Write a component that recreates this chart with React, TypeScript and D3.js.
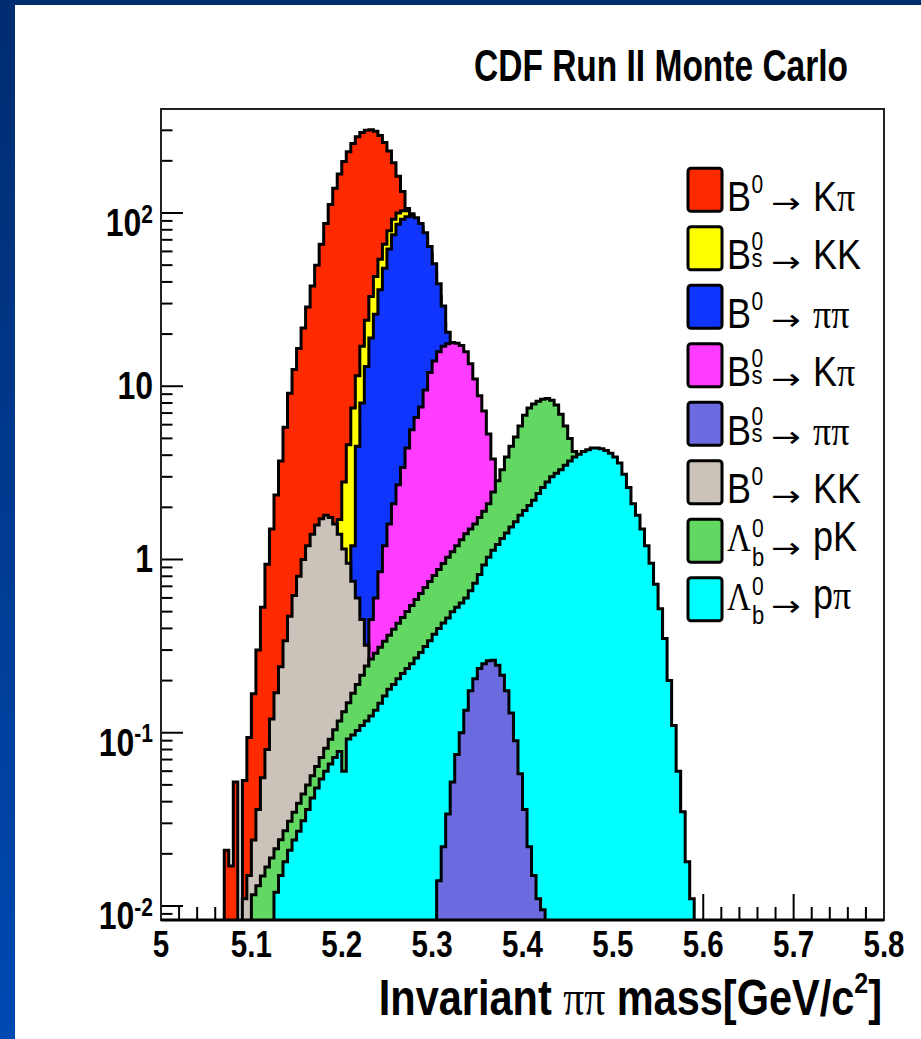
import React from "react";
import * as d3 from "d3";

// ---- data ---------------------------------------------------------------
const binWidth = 0.005; // GeV/c^2 per bin

// B0 -> K pi
const kpiStart = 5.07;
const kpiCounts = [
  0.021, 0.017, 0.052, 0, 0.053, 0.094, 0.168, 0.3, 0.53, 0.94,
  1.5, 2.36, 3.7, 5.8, 9.1, 12.5, 16.5, 21.7, 28.7, 37.9,
  50, 66, 87, 112, 139, 168, 198, 226, 252, 275,
  291, 300, 302, 296, 280, 255, 228, 195, 163, 133,
  106, 82, 62, 46, 33, 23, 16, 10.5, 6.8, 4.3,
  2.7, 1.6, 0.95, 0.55, 0.3, 0.16, 0.08, 0.04, 0.02,
];

// Bs -> K K
const bsKKStart = 5.17;
const bsKKCounts = [
  0.1, 0.2, 0.35, 0.6, 1.0, 1.7, 2.8, 4.6, 7.5, 11.5,
  17, 24, 33, 43, 54, 66, 79, 92, 100, 103,
  103, 99, 92, 83, 71, 58, 45, 33, 23, 15.5,
  10, 6.3, 3.9, 2.3, 1.35, 0.75, 0.4, 0.2, 0.1,
];

// B0 -> pi pi
const pipiStart = 5.19;
const pipiCounts = [
  0.015, 0.04, 0.12, 0.4, 1.2, 4.5, 8, 13, 19, 26,
  36, 48, 62, 75, 86, 92, 95, 96, 94, 87,
  77, 64, 51, 39, 29, 20.5, 14, 9.5, 6.3, 4.1,
  2.6, 1.6, 1.0, 0.6, 0.35, 0.2, 0.1,
];

// Bs -> K pi
const bsKpiStart = 5.225;
const bsKpiCounts = [
  0.3, 0.45, 0.6, 0.85, 1.2, 1.6, 2.1, 2.7, 3.4, 4.4,
  5.6, 6.6, 7.6, 9.5, 12.0, 14.0, 15.8, 17.0, 17.6, 17.9,
  17.7, 17.2, 15.8, 13.5, 11.0, 8.8, 7.2, 5.3, 3.8, 2.7,
  1.8, 1.1, 0.7, 0.4, 0.22, 0.12, 0.06, 0.03,
];

// Bs -> pi pi
const bsPipiStart = 5.305;
const bsPipiCounts = [
  0.014, 0.022, 0.034, 0.052, 0.075, 0.1, 0.135, 0.175, 0.205, 0.235,
  0.25, 0.26, 0.262, 0.245, 0.215, 0.175, 0.13, 0.09, 0.058, 0.036,
  0.022, 0.015, 0.011, 0.0095,
];

// B0 -> K K
const kkStart = 5.09;
const kkCounts = [
  0.011, 0.015, 0.024, 0.036, 0.055, 0.08, 0.12, 0.17, 0.24, 0.34,
  0.47, 0.62, 0.8, 1.0, 1.2, 1.4, 1.58, 1.72, 1.8, 1.75,
  1.6, 1.4, 1.15, 0.95, 0.75, 0.6, 0.45, 0.32, 0.22, 0.15,
  0.1, 0.065, 0.04, 0.025, 0.015,
];

// Lambda_b -> p K
const lbpKStart = 5.1;
const lbpKCounts = [
  0.0116, 0.0131, 0.0149, 0.0168, 0.0189, 0.0214, 0.0241, 0.0272, 0.0308, 0.0347,
  0.0392, 0.0443, 0.05, 0.0565, 0.0638, 0.072, 0.0813, 0.0918, 0.104, 0.117,
  0.132, 0.149, 0.169, 0.19, 0.215, 0.243, 0.266, 0.288, 0.311, 0.337,
  0.365, 0.395, 0.428, 0.463, 0.501, 0.543, 0.588, 0.637, 0.689, 0.746,
  0.808, 0.875, 0.947, 1.03, 1.11, 1.2, 1.3, 1.41, 1.5, 1.6,
  1.75, 1.9, 2.1, 2.45, 2.85, 3.3, 3.9, 4.5, 5.1, 5.9,
  6.8, 7.5, 7.9, 8.2, 8.4, 8.5, 8.3, 7.8, 6.9, 5.9,
  5.0, 4.2, 3.5, 2.7, 2.0, 1.4, 0.95, 0.6, 0.36, 0.2,
  0.1, 0.05, 0.022,
];

// Lambda_b -> p pi
const lbppiStart = 5.125;
const lbppiCounts = [
  0.012, 0.015, 0.018, 0.021, 0.024, 0.027, 0.031, 0.036, 0.042, 0.048,
  0.054, 0.06, 0.066, 0.072, 0.078, 0.06, 0.092, 0.097, 0.103, 0.11,
  0.117, 0.125, 0.135, 0.148, 0.163, 0.178, 0.19, 0.205, 0.22, 0.235,
  0.25, 0.27, 0.29, 0.315, 0.34, 0.37, 0.4, 0.43, 0.46, 0.5,
  0.53, 0.56, 0.6, 0.66, 0.73, 0.82, 0.93, 1.03, 1.13, 1.22,
  1.32, 1.42, 1.54, 1.65, 1.8, 1.92, 2.05, 2.2, 2.4, 2.6,
  2.8, 3.0, 3.15, 3.3, 3.5, 3.7, 3.9, 4.05, 4.2, 4.3,
  4.4, 4.4, 4.35, 4.25, 4.1, 3.9, 3.6, 3.1, 2.6, 2.1,
  1.8, 1.5, 1.2, 0.95, 0.72, 0.52, 0.35, 0.2, 0.11, 0.06,
  0.035, 0.018, 0.011,
];

// axis ticks
const massTicks = [5, 5.1, 5.2, 5.3, 5.4, 5.5, 5.6, 5.7, 5.8];
const massTickLabels = ["5", "5.1", "5.2", "5.3", "5.4", "5.5", "5.6", "5.7", "5.8"];
const decadeTicks = [0.01, 0.1, 1, 10, 100];
const decadeBases = ["10", "10", "1", "10", "10"];
const decadeExponents = ["-2", "-1", "", "", "2"];

// legend: parent particle, subscript, decay products (greek flag)
const legendParents = ["B", "B", "B", "B", "B", "B", "Λ", "Λ"];
const legendSubs = ["", "s", "", "s", "s", "", "b", "b"];
const legendProducts: [string, boolean][][] = [
  [["K", false], ["π", true]],
  [["KK", false]],
  [["ππ", true]],
  [["K", false], ["π", true]],
  [["ππ", true]],
  [["KK", false]],
  [["pK", false]],
  [["p", false], ["π", true]],
];
const legendColors = ["#ff2a00", "#ffff00", "#0f35ff", "#ff3cff", "#6b6bdf", "#cbc3ba", "#62d762", "#00ffff"];

// draw order (back to front) as indices into the legend list
const drawOrder = [0, 1, 2, 3, 5, 6, 7, 4];
const seriesStarts = [kpiStart, bsKKStart, pipiStart, bsKpiStart, bsPipiStart, kkStart, lbpKStart, lbppiStart];
const seriesCounts = [kpiCounts, bsKKCounts, pipiCounts, bsKpiCounts, bsPipiCounts, kkCounts, lbpKCounts, lbppiCounts];

// ---- layout -------------------------------------------------------------
const W = 921;
const H = 1039;
const F = { left: 161, right: 884, top: 109, bottom: 920 };
const SANS = "'Liberation Sans', Arial, Helvetica, sans-serif";
const SERIF = "'Liberation Serif', 'Times New Roman', serif";

const x = d3.scaleLinear().domain([5, 5.8]).range([F.left, F.right]);
const y = d3.scaleLog().domain([0.0083, 398.3]).range([F.bottom, F.top]);

function histPath(start: number, counts: number[]): string {
  let d = "";
  let open = false;
  const yMin = y.domain()[0];
  counts.forEach((v, i) => {
    const x0 = x(start + i * binWidth);
    const x1 = x(start + (i + 1) * binWidth);
    if (v > 0) {
      const yy = v <= yMin ? F.bottom : Math.max(F.top, y(v));
      d += open ? `V${yy}H${x1}` : `M${x0},${F.bottom}V${yy}H${x1}`;
      open = true;
    } else if (open) {
      d += `V${F.bottom}`;
      open = false;
    }
  });
  if (open) d += `V${F.bottom}`;
  return d;
}

// text drawn with independent x/y glyph scaling (baseline at tx,ty)
function Tall({ tx, ty, sx = 1, sy, children, ...rest }: any) {
  return (
    <text transform={`translate(${tx},${ty}) scale(${sx},${sy})`} {...rest}>
      {children}
    </text>
  );
}

export default function App() {
  const xMinor: number[] = d3.range(0, 41).map((i) => 5 + i * 0.02);
  const yMinor: number[] = [];
  for (let e = -3; e <= 2; e++) {
    for (let k = 2; k <= 9; k++) {
      const v = k * Math.pow(10, e);
      if (v >= y.domain()[0] && v <= y.domain()[1]) yMinor.push(v);
    }
  }

  const legendTop = 168.3;
  const legendStep = 58.5;
  const LSY = 1.2;

  return (
    <svg
      width={W}
      height={H}
      viewBox={`0 0 ${W} ${H}`}
      style={{ position: "absolute", left: 0, top: 0, display: "block" }}
    >
      <defs>
        <linearGradient id="edgeBlue" x1="0" y1="0" x2="0" y2="1">
          <stop offset="0" stopColor="#002c70" />
          <stop offset="1" stopColor="#0049b2" />
        </linearGradient>
        <clipPath id="frameClip">
          <rect x={F.left} y={F.top} width={F.right - F.left} height={F.bottom - F.top} />
        </clipPath>
      </defs>

      <rect x={0} y={0} width={W} height={H} fill="url(#edgeBlue)" />
      <rect x={15} y={5} width={W - 15} height={H - 5} fill="#ffffff" />

      {/* axis ticks (drawn beneath the histograms) */}
      <g stroke="#000" strokeWidth={2}>
        {xMinor.map((v, i) => (
          <line key={`xt${i}`} x1={x(v)} x2={x(v)} y1={F.bottom} y2={F.bottom - (i % 5 === 0 ? 26 : 13)} />
        ))}
        {decadeTicks.map((v) => (
          <line key={`yM${v}`} x1={F.left} x2={F.left + 22} y1={y(v)} y2={y(v)} />
        ))}
        {yMinor.map((v) => (
          <line key={`ym${v}`} x1={F.left} x2={F.left + 11.5} y1={y(v)} y2={y(v)} />
        ))}
      </g>

      {/* overlaid histograms */}
      <g clipPath="url(#frameClip)">
        {drawOrder.map((s) => (
          <path
            key={`h${s}`}
            d={histPath(seriesStarts[s], seriesCounts[s])}
            fill={legendColors[s]}
            stroke="#000"
            strokeWidth={3}
            strokeLinejoin="miter"
          />
        ))}
      </g>

      {/* frame */}
      <rect
        x={F.left}
        y={F.top}
        width={F.right - F.left}
        height={F.bottom - F.top}
        fill="none"
        stroke="#222"
        strokeWidth={2}
      />
      <line x1={F.left} x2={F.right} y1={F.bottom} y2={F.bottom} stroke="#000" strokeWidth={3} />

      {/* x tick labels */}
      {massTicks.map((v, i) => (
        <Tall
          key={`xl${i}`}
          tx={x(v)}
          ty={957}
          sy={1.28}
          textAnchor="middle"
          fontFamily={SANS}
          fontWeight="bold"
          fontSize={29.5}
        >
          {massTickLabels[i]}
        </Tall>
      ))}

      {/* y tick labels */}
      {decadeTicks.map((v, i) =>
        decadeExponents[i] ? (
          <Tall
            key={`yl${i}`}
            tx={153}
            ty={y(v) + 23}
            sy={1.22}
            textAnchor="end"
            fontFamily={SANS}
            fontWeight="bold"
            fontSize={32}
          >
            {decadeBases[i]}
            <tspan fontSize={21} dy={-11}>
              {decadeExponents[i]}
            </tspan>
          </Tall>
        ) : (
          <Tall
            key={`yl${i}`}
            tx={153}
            ty={y(v) + 13}
            sy={1.22}
            textAnchor="end"
            fontFamily={SANS}
            fontWeight="bold"
            fontSize={32}
          >
            {decadeBases[i]}
          </Tall>
        )
      )}

      {/* title */}
      <Tall tx={848} ty={81} sy={1.3} textAnchor="end" fontFamily={SANS} fontWeight="bold" fontSize={33.5}>
        CDF Run II Monte Carlo
      </Tall>

      {/* x axis title */}
      <Tall tx={882} ty={1015} sy={1.2} textAnchor="end" fontFamily={SANS} fontWeight="bold" fontSize={41.5}>
        Invariant{" "}
        <tspan fontFamily={SERIF} fontWeight="normal">
          ππ
        </tspan>{" "}
        mass[GeV/c
        <tspan fontSize={25} dy={-18}>
          2
        </tspan>
        <tspan dy={18}>]</tspan>
      </Tall>

      {/* legend */}
      {legendParents.map((p, i) => {
        const top = legendTop + i * legendStep;
        const isLambda = p === "Λ";
        const hasSub = legendSubs[i] !== "";
        const base = top + (isLambda ? 32 : 42.5);
        const supBase = isLambda ? top + 17.5 : top + (hasSub ? 23 : 24.5);
        const subBase = isLambda ? top + 46.5 : top + 40;
        const arrowMid = isLambda ? top + 28.5 : top + 34.7;
        const scriptX = isLambda ? 25 : 24.5;
        return (
          <g key={`lg${i}`}>
            <rect
              x={688}
              y={top}
              width={34}
              height={43}
              rx={3}
              fill={legendColors[i]}
              stroke="#000"
              strokeWidth={3}
            />
            <Tall tx={727} ty={base} sy={LSY} fontFamily={SANS} fontSize={36}>
              <tspan fontFamily={isLambda ? SERIF : SANS} fontSize={isLambda ? 33 : 36}>
                {p}
              </tspan>
              <tspan x={scriptX} y={(supBase - base) / LSY} fontSize={21}>
                0
              </tspan>
              {hasSub && (
                <tspan x={scriptX} y={(subBase - base) / LSY} fontSize={22}>
                  {legendSubs[i]}
                </tspan>
              )}
            </Tall>
            <Tall tx={771} ty={arrowMid + 10} sx={1.22} sy={1} fontFamily="'DejaVu Sans', sans-serif" fontSize={29}>
              →
            </Tall>
            <Tall tx={813} ty={isLambda ? top + 31.5 : base} sy={LSY} fontFamily={SANS} fontSize={36}>
              {legendProducts[i].map(([t, greek], j) => (
                <tspan key={j} fontFamily={greek ? SERIF : SANS}>
                  {t}
                </tspan>
              ))}
            </Tall>
          </g>
        );
      })}
    </svg>
  );
}
